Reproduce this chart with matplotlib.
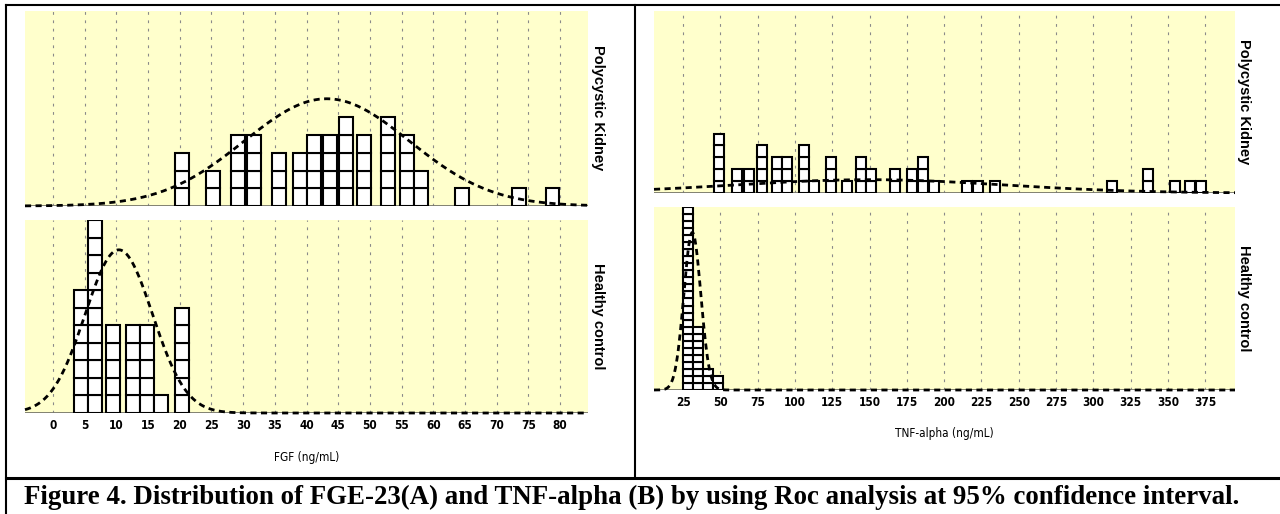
import numpy as np
import matplotlib
matplotlib.use("Agg")
import matplotlib.pyplot as plt
from matplotlib.lines import Line2D

W, H = 1280, 514

# ---- data (dot-histogram columns: centre value, number of dots)
fgf_ticks = list(range(0, 81, 5))
tnf_ticks = list(range(25, 376, 25))

fgf_pk_x = [20.3, 25.3, 29.2, 31.7, 35.7, 39.0, 41.2, 43.7, 46.2, 49.0, 52.8, 55.9, 58.1, 64.6, 73.5, 78.8]
fgf_pk_n = [3, 2, 4, 4, 3, 3, 4, 4, 5, 4, 5, 4, 2, 1, 1, 1]
fgf_hc_x = [4.4, 6.6, 9.5, 12.7, 14.8, 17.0, 20.4]
fgf_hc_n = [7, 11, 5, 5, 5, 1, 6]

tnf_pk_x = [48.8, 61, 69, 78, 87.7, 94.6, 106, 112.7, 124, 135, 144, 150.8,
            166.8, 178.7, 185.6, 193, 215.6, 222.5, 234, 312.7, 337, 355, 365, 372]
tnf_pk_n = [5, 2, 2, 4, 3, 3, 4, 1, 3, 1, 3, 2, 2, 2, 3, 1, 1, 1, 1, 1, 2, 1, 1, 1]
tnf_hc_x = [28, 35, 41.8, 48.5]
tnf_hc_n = [26, 9, 3, 2]

# fitted normal curves: mean, sd, peak height (in dots)
fgf_pk_fit = (43.2, 13.0, 6.05)
fgf_hc_fit = (10.4, 5.3, 9.3)
tnf_pk_fit = (150.0, 90.0, 1.12)
tnf_hc_fit = (31.2, 5.7, 22.4)

YELLOW = '#ffffcc'
narrow = ['Liberation Sans Narrow', 'DejaVu Sans']


def px_box(x0, y0, x1, y1):
    return [x0 / W, 1 - y1 / H, (x1 - x0) / W, (y1 - y0) / H]


def dot_panel(ax, xs, ns, fit, xlim, ylim, ticks, width, labels=False):
    ax.set_facecolor(YELLOW)
    ax.set_xlim(*xlim)
    ax.set_ylim(*ylim)
    for s in ax.spines.values():
        s.set_visible(False)
    ax.set_yticks([])
    ax.set_xticks(ticks)
    ax.tick_params(axis='x', length=0, pad=4, labelbottom=labels)
    if labels:
        ax.set_xticklabels([str(t) for t in ticks], family=narrow,
                           fontsize=8.5, fontweight='bold', fontstretch='condensed')
    for t in ticks:
        ax.axvline(t, color='#8a8a8a', lw=0.8, ls=(0, (2.5, 5)), zorder=1)
    ax.axhline(0, color='#77776a', lw=1.3, zorder=2)
    for x, n in zip(xs, ns):
        ax.bar([x] * n, 1, width=width, bottom=np.arange(n), color='white',
               edgecolor='black', linewidth=1.5, zorder=3)
    mu, sd, peak = fit
    xx = np.linspace(xlim[0], xlim[1], 600)
    ax.plot(xx, peak * np.exp(-0.5 * ((xx - mu) / sd) ** 2), color='black',
            lw=2.0, ls=(0, (2.2, 1.6)), zorder=4, clip_on=False)


fig = plt.figure(figsize=(W / 100, H / 100), dpi=100)

a1 = fig.add_axes(px_box(25, 11, 588, 206))
a2 = fig.add_axes(px_box(25, 220, 588, 413))
b1 = fig.add_axes(px_box(654, 11, 1235, 193))
b2 = fig.add_axes(px_box(654, 207, 1235, 390))

dot_panel(a1, fgf_pk_x, fgf_pk_n, fgf_pk_fit, (-4.4, 84.4), (0, 11.0), fgf_ticks, 2.2)
dot_panel(a2, fgf_hc_x, fgf_hc_n, fgf_hc_fit, (-4.4, 84.4), (0, 11.0), fgf_ticks, 2.2, labels=True)
dot_panel(b1, tnf_pk_x, tnf_pk_n, tnf_pk_fit, (5.5, 395), (0, 15.3), tnf_ticks, 6.7)
dot_panel(b2, tnf_hc_x, tnf_hc_n, tnf_hc_fit, (5.5, 395), (0, 26.0), tnf_ticks, 6.7, labels=True)

# side labels
side = dict(rotation=270, ha='center', va='center', fontsize=10.5,
            fontweight='bold', family=['Liberation Sans', 'DejaVu Sans'])
fig.text(598 / W, 1 - 108 / H, 'Polycystic Kidney', **side)
fig.text(598 / W, 1 - 316 / H, 'Healthy control', **side)
fig.text(1244 / W, 1 - 102 / H, 'Polycystic Kidney', **side)
fig.text(1244 / W, 1 - 298 / H, 'Healthy control', **side)

# axis titles
fig.text(307 / W, 1 - 458 / H, 'FGF (ng/mL)', ha='center', va='center',
         fontsize=8.5, family=narrow, fontstretch='condensed')
fig.text(944 / W, 1 - 433 / H, 'TNF-alpha (ng/mL)', ha='center', va='center',
         fontsize=8.5, family=narrow, fontstretch='condensed')

# table frame
def hline(y, x0, x1, lw):
    fig.add_artist(Line2D([x0 / W, x1 / W], [1 - y / H, 1 - y / H], color='black', lw=lw))


def vline(x, y0, y1, lw):
    fig.add_artist(Line2D([x / W, x / W], [1 - y0 / H, 1 - y1 / H], color='black', lw=lw))


hline(5, 6, 1280, 1.5)
hline(478, 6, 1280, 2.2)
vline(6, 5, 514, 1.5)
vline(635, 5, 478, 1.5)

fig.text(632 / W, 1 - 497 / H,
         'Figure 4. Distribution of FGE-23(A) and TNF-alpha (B) by using Roc analysis at 95% confidence interval.',
         ha='center', va='center', fontsize=19.4, fontweight='bold',
         family=['Liberation Serif', 'DejaVu Serif'])

fig.savefig('out.png', dpi=100)
